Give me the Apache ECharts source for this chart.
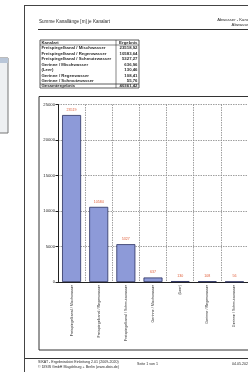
<!DOCTYPE html>
<html>
<head>
<meta charset="utf-8">
<script src="https://cdn.jsdelivr.net/npm/echarts@6/dist/echarts.min.js"></script>
<style>
  html, body { margin: 0; padding: 0; background: #fff; }
  #chart { width: 248px; height: 372px; }
</style>
</head>
<body>
<div id="chart"></div>
<script>
// Kanalarten und Längen (m)
const kanalarten = [
  "Freispiegelkanal / Mischwasser",
  "Freispiegelkanal / Regenwasser",
  "Freispiegelkanal / Schmutzwasser",
  "Gerinne / Mischwasser",
  "(Leer)",
  "Gerinne / Regenwasser",
  "Gerinne / Schmutzwasser"
];
const laengen = [23518.92, 10583.64, 5327.27, 636.96, 130.46, 108.41, 55.76];
const gesamt = "40361,42";
const yTicks = [0, 5000, 10000, 15000, 20000, 25000];

const chart = echarts.init(document.getElementById("chart"));
const txt = "#2b2b2b";
const fam = "Liberation Sans, Arial, sans-serif";

// Tabelle oben links als Grafik
const tab = [];
const tx = 40, ty = 40, tw = 99, colX = 116;
const rowH = (84 - 45) / kanalarten.length;
tab.push({ type: "rect", shape: { x: tx, y: ty, width: tw, height: 48 },
  style: { fill: "none", stroke: "#333", lineWidth: 0.8 } });
tab.push({ type: "line", shape: { x1: colX, y1: ty, x2: colX, y2: 88 }, style: { stroke: "#333", lineWidth: 0.6 } });
tab.push({ type: "line", shape: { x1: tx, y1: 45, x2: tx + tw, y2: 45 }, style: { stroke: "#333", lineWidth: 0.6 } });
tab.push({ type: "line", shape: { x1: tx, y1: 84, x2: tx + tw, y2: 84 }, style: { stroke: "#333", lineWidth: 0.8 } });
const cell = (x, y, s, align) => ({
  type: "text", x: x, y: y,
  style: { text: s, fontSize: 4.3, fontFamily: fam, fontWeight: "bold", fill: txt,
    align: align || "left", verticalAlign: "middle" }
});
tab.push(cell(tx + 1.5, 42.5, "Kanalart"));
tab.push(cell(tx + tw - 1.5, 42.5, "Ergebnis", "right"));
kanalarten.forEach((k, i) => {
  const y = 45 + rowH * (i + 0.5);
  tab.push(cell(tx + 1.5, y, k));
  tab.push(cell(tx + tw - 1.5, y, laengen[i].toFixed(2).replace(".", ","), "right"));
});
tab.push(cell(tx + 1.5, 86, "Gesamtergebnis"));
tab.push(cell(tx + tw - 1.5, 86, gesamt, "right"));

const small = (x, y, s, align) => ({
  type: "text", x: x, y: y,
  style: { text: s, fontSize: 3.6, fontFamily: fam, fill: txt, align: align || "left", verticalAlign: "middle" }
});

const option = {
  backgroundColor: "#fff",
  animation: false,
  graphic: [
    // Fensterrest links
    { type: "rect", shape: { x: -2, y: 58, width: 10, height: 75 },
      style: { fill: "#eef0f2", stroke: "#777", lineWidth: 1 } },
    { type: "rect", shape: { x: -2, y: 58, width: 10, height: 5 },
      style: { fill: "#b9c6d8" } },
    // Seitenrahmen
    { type: "line", shape: { x1: 24.5, y1: 5, x2: 24.5, y2: 372 }, style: { stroke: "#444", lineWidth: 1 } },
    { type: "line", shape: { x1: 24.5, y1: 5.5, x2: 250, y2: 5.5 }, style: { stroke: "#444", lineWidth: 1 } },
    // Kopf
    { type: "text", x: 39, y: 22, style: { text: "Summe Kanallänge [m] je Kanalart", fontSize: 4.6,
        fontFamily: fam, fill: txt, verticalAlign: "middle" } },
    { type: "text", x: 250, y: 20, style: { text: "Abwasser - Kanal", fontSize: 4.2,
        fontFamily: fam, fill: txt, align: "right", verticalAlign: "middle" } },
    { type: "text", x: 250, y: 25, style: { text: "Abwasser", fontSize: 4.2,
        fontFamily: fam, fill: txt, align: "right", verticalAlign: "middle" } },
    { type: "line", shape: { x1: 38, y1: 29.5, x2: 250, y2: 29.5 }, style: { stroke: "#333", lineWidth: 1.2 } },
    // Diagrammrahmen
    { type: "rect", shape: { x: 39, y: 96.5, width: 215, height: 253.5 },
      style: { fill: "none", stroke: "#333", lineWidth: 1 } },
    // Fuß
    { type: "line", shape: { x1: 25, y1: 358.5, x2: 250, y2: 358.5 }, style: { stroke: "#333", lineWidth: 1.2 } },
    small(38, 362, "SIKAT - Ergebnisdatei Einleitung 2.01 (2009-2020)"),
    small(38, 366.5, "© DISIS GmbH Magdeburg + Berlin (www.disis.de)"),
    small(137, 364, "Seite 1 von 1"),
    small(232, 364, "04.05.2020")
  ].concat(tab),
  grid: { left: 58, right: 0, top: 104.5, bottom: 90, containLabel: false },
  xAxis: {
    type: "category",
    data: kanalarten,
    boundaryGap: true,
    axisLine: { lineStyle: { color: "#222", width: 1 } },
    axisTick: { show: false },
    splitLine: { show: true, lineStyle: { color: "#888", type: [1.5, 1], width: 0.8 } },
    axisLabel: {
      rotate: 90, interval: 0, margin: 3, fontSize: 3.7,
      fontFamily: fam, color: txt
    }
  },
  yAxis: {
    type: "value",
    min: 0, max: 25000, interval: 5000,
    axisLine: { show: true, lineStyle: { color: "#222", width: 1 } },
    axisTick: { show: true, length: 2.5, lineStyle: { color: "#222" } },
    splitLine: { show: true, lineStyle: { color: "#888", type: [1.5, 1], width: 0.8 } },
    axisLabel: {
      fontSize: 4.2, fontFamily: fam, color: txt, margin: 3,
      customValues: yTicks,
      formatter: (v) => String(v)
    }
  },
  series: [{
    type: "bar",
    data: laengen,
    barWidth: 19,
    itemStyle: { color: "#8d9ad8", borderColor: "#2a3060", borderWidth: 0.8 },
    label: {
      show: true, position: "top", distance: 3,
      fontSize: 3.6, fontFamily: fam, color: "#e0603c",
      formatter: (p) => Math.round(p.value)
    }
  }]
};
chart.setOption(option);
</script>
</body>
</html>
